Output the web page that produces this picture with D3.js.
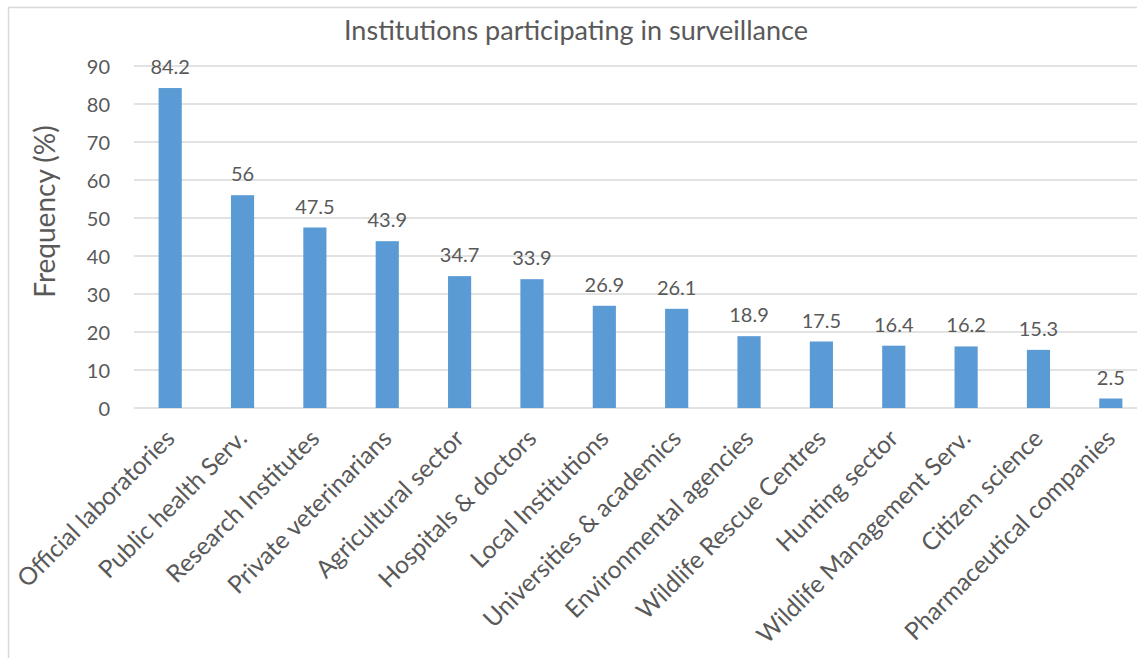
<!DOCTYPE html>
<html>
<head>
    <meta charset="UTF-8">
    <title>Institutions participating in surveillance</title>
    <script src="https://d3js.org/d3.v7.min.js"></script>
    <style>
        body { margin: 0; background: #fff; }
        text { font-family: Lato, "Open Sans", sans-serif; fill: #595959; }
    </style>
</head>
<body>
    <svg id="chart" width="1137" height="658"></svg>
    <script>
        // chart data
        var categories = ["Official laboratories", "Public health Serv.", "Research Institutes",
            "Private veterinarians", "Agricultural sector", "Hospitals & doctors", "Local Institutions",
            "Universities & academics", "Environmental agencies", "Wildlife Rescue Centres",
            "Hunting sector", "Wildlife Management Serv.", "Citizen science", "Pharmaceutical companies"];
        var frequency = [84.2, 56, 47.5, 43.9, 34.7, 33.9, 26.9, 26.1, 18.9, 17.5, 16.4, 16.2, 15.3, 2.5];
        var yTicks = [0, 10, 20, 30, 40, 50, 60, 70, 80, 90];

        var svg = d3.select("#chart");

        // chart area border (cropped on the right and bottom like the original)
        svg.append("rect")
            .attr("x", 8.5).attr("y", 7.5)
            .attr("width", 1200).attr("height", 700)
            .attr("fill", "none")
            .attr("stroke", "#d9d9d9")
            .attr("stroke-width", 1.5);

        var x = d3.scaleBand()
            .domain(categories)
            .range([134, 1147])
            .paddingInner(0.68)
            .paddingOuter(0.34);

        var y = d3.scaleLinear()
            .domain([0, 90])
            .range([408, 66]);

        // gridlines
        svg.append("g").selectAll("line")
            .data(yTicks)
            .enter().append("line")
            .attr("x1", 134).attr("x2", 1137)
            .attr("y1", d => y(d)).attr("y2", d => y(d))
            .attr("stroke", "#d9d9d9")
            .attr("stroke-width", 1.3);

        // y axis labels
        var yAxis = d3.axisLeft(y).tickValues(yTicks).tickSize(0).tickPadding(0);
        var yg = svg.append("g").attr("transform", "translate(110,0)").call(yAxis);
        yg.select(".domain").remove();
        yg.selectAll("text")
            .style("font-size", "20px")
            .attr("dy", "0.35em");

        // bars
        svg.append("g").selectAll("rect")
            .data(frequency)
            .enter().append("rect")
            .attr("x", (d, i) => x(categories[i]))
            .attr("y", d => y(d))
            .attr("width", x.bandwidth())
            .attr("height", d => y(0) - y(d))
            .attr("fill", "#5b9bd5");

        // value labels
        svg.append("g").selectAll("text")
            .data(frequency)
            .enter().append("text")
            .attr("x", (d, i) => x(categories[i]) + x.bandwidth() / 2)
            .attr("y", d => y(d) - 14)
            .attr("text-anchor", "middle")
            .style("font-size", "20px")
            .text(d => d);

        // category labels, rotated
        svg.append("g").selectAll("text")
            .data(categories)
            .enter().append("text")
            .attr("text-anchor", "end")
            .attr("transform", d => "translate(" + (x(d) + x.bandwidth() / 2 + 6) + ",440) rotate(-45)")
            .style("font-size", "24.5px")
            .text(d => d);

        // title
        svg.append("text")
            .attr("x", 576).attr("y", 39.5)
            .attr("text-anchor", "middle")
            .style("font-size", "27px")
            .text("Institutions participating in surveillance");

        // y axis title
        svg.append("text")
            .attr("transform", "translate(55,211.5) rotate(-90)")
            .attr("text-anchor", "middle")
            .style("font-size", "28px")
            .text("Frequency (%)");
    </script>
</body>
</html>
